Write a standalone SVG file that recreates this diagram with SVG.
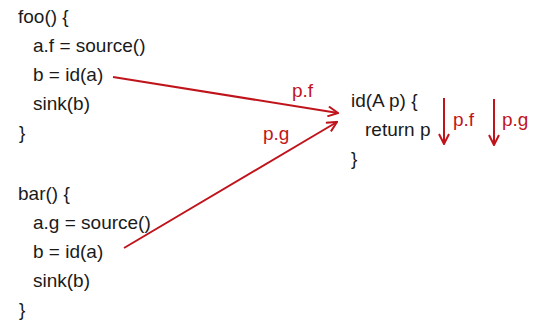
<svg xmlns="http://www.w3.org/2000/svg" width="534" height="324" viewBox="0 0 534 324">
<defs>
<marker id="ah" viewBox="0 0 12 12" refX="11" refY="6" markerWidth="12" markerHeight="12" markerUnits="userSpaceOnUse" orient="auto">
<path d="M1,1 L11,6 L1,11" fill="none" stroke="#C0141C" stroke-width="2"/>
</marker>
<style>
text{font-family:"Liberation Sans",Arial,sans-serif;font-size:19px;fill:#1a1a1a}
.r{fill:#C0141C}
.c{stroke:#C0141C;stroke-width:2;fill:none;marker-end:url(#ah)}
</style>
</defs>
<rect width="534" height="324" fill="#fff"/>
<g id="foo">
<text x="18" y="23">foo() {</text>
<text x="33" y="52">a.f = source()</text>
<text x="33" y="81">b = id(a)</text>
<text x="33" y="110">sink(b)</text>
<text x="19" y="139">}</text>
</g>
<g id="bar">
<text x="18" y="200">bar() {</text>
<text x="33" y="229">a.g = source()</text>
<text x="33" y="258">b = id(a)</text>
<text x="33" y="287">sink(b)</text>
<text x="19" y="316">}</text>
</g>
<g id="id">
<text x="351" y="107">id(A p) {</text>
<text x="365" y="136">return p</text>
<text x="351" y="165">}</text>
</g>
<g id="connectors">
<line class="c" x1="113" y1="77" x2="338" y2="113"/>
<line class="c" x1="124" y1="248" x2="337" y2="122"/>
<line class="c" x1="444" y1="98" x2="444" y2="144"/>
<line class="c" x1="494" y1="99" x2="494" y2="145"/>
<text class="r" x="292" y="97">p.f</text>
<text class="r" x="263" y="140">p.g</text>
<text class="r" x="453" y="126">p.f</text>
<text class="r" x="502" y="126">p.g</text>
</g>
</svg>
